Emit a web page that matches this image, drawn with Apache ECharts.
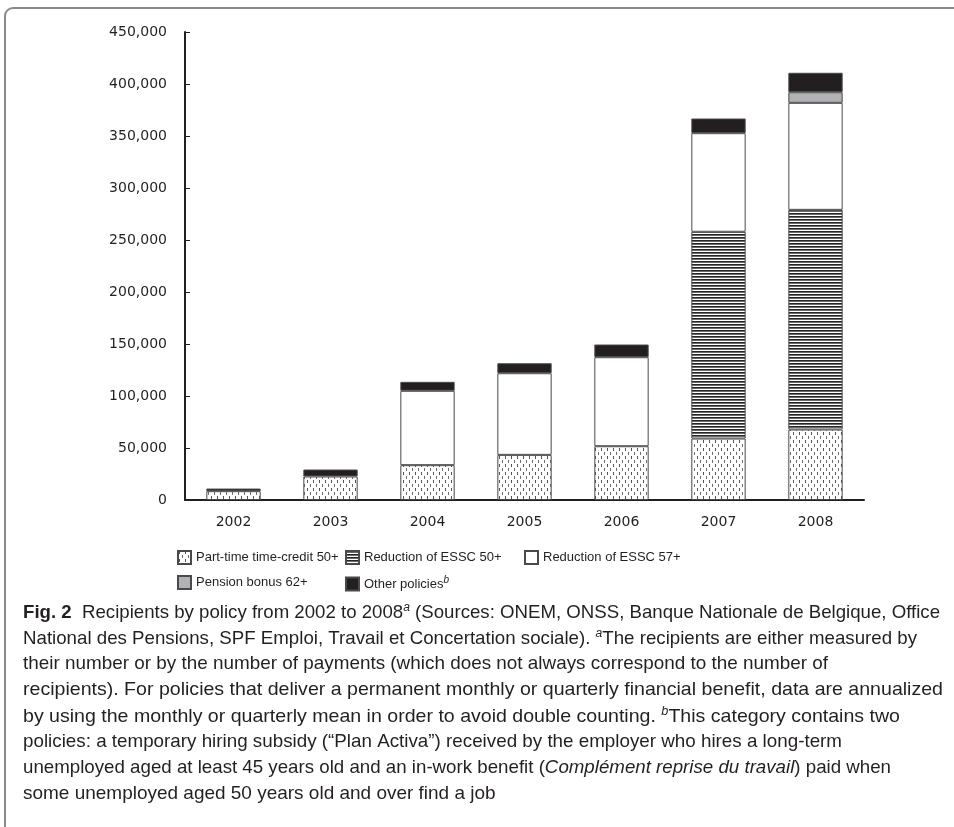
<!DOCTYPE html>
<html><head><meta charset="utf-8">
<script src="https://cdn.jsdelivr.net/npm/echarts@6/dist/echarts.min.js"></script>
<style>html,body{margin:0;padding:0;background:#fff}#c{width:954px;height:827px}</style>
</head><body><div id="c"></div>
<script>
const years = ['2002','2003','2004','2005','2006','2007','2008'];
const partTime = [8500, 22600, 33500, 43400, 51700, 59100, 67800];
const essc50 = [null, null, null, null, null, 198800, 211200];
const essc57 = [null, null, 71500, 78500, 85600, 94800, 102900];
const pension = [null, null, null, null, null, null, 10200];
const other = [2500, 6700, 8600, 9600, 12200, 14100, 18700];
const seriesNames = ['Part-time time-credit 50+', 'Reduction of ESSC 50+', 'Reduction of ESSC 57+', 'Pension bonus 62+', 'Other policies'];
const yTicks = [0, 50000, 100000, 150000, 200000, 250000, 300000, 350000, 400000, 450000];

function dotPattern(){
  const c = document.createElement('canvas'); c.width = 6; c.height = 8;
  const g = c.getContext('2d');
  g.fillStyle = '#fff'; g.fillRect(0,0,6,8);
  g.fillStyle = '#555'; g.fillRect(1,0,1,3);
  g.fillStyle = '#6e6e6e'; g.fillRect(4,4,1,3);
  return c;
}
function stripePattern(){
  const c = document.createElement('canvas'); c.width = 4; c.height = 3;
  const g = c.getContext('2d');
  g.fillStyle = '#fff'; g.fillRect(0,0,4,3);
  g.fillStyle = '#262626'; g.fillRect(0,0,4,1);
  g.fillStyle = '#6a6a6a'; g.fillRect(0,1,4,1);
  return c;
}
const dotFill = {image: dotPattern(), repeat: 'repeat'};
const stripeFill = {image: stripePattern(), repeat: 'repeat'};

const border = {borderColor: '#4a4a4a', borderWidth: 1};
const fills = [dotFill, stripeFill, '#ffffff', '#b1b2b5', '#231f20'];
const values = [partTime, essc50, essc57, pension, other];

const series = seriesNames.map((n, i) => ({
  name: n, type: 'bar', stack: 'all', barWidth: '56%',
  itemStyle: Object.assign({color: fills[i]}, border),
  data: values[i]
}));

const lf = 'Liberation Sans';
const legendFont = {fontFamily: lf, fontSize: 13, color: '#231f20',
  rich: {n: {fontFamily: lf, fontSize: 13, color: '#231f20'},
         s: {fontFamily: lf, fontSize: 10, fontStyle: 'italic', color: '#231f20', padding: [0,0,8,0]}}};
const legendPos = [[177, 550], [345, 550], [524, 550], [177, 575], [345, 575]];
const legends = seriesNames.map((n, i) => ({
  data: [n], left: legendPos[i][0], top: legendPos[i][1], itemWidth: 13, itemHeight: 13,
  icon: 'rect', itemGap: 0, padding: 0, textStyle: legendFont, selectedMode: false,
  formatter: i === 4 ? () => '{n|Other policies}{s|b}' : undefined
}));

const capFont = 'Liberation Sans';
const capSize = 18.5;
const rich = {
  b: {fontFamily: capFont, fontSize: capSize, fontWeight: 'bold', fill: '#231f20'},
  t: {fontFamily: capFont, fontSize: capSize, fill: '#231f20'},
  i: {fontFamily: capFont, fontSize: capSize, fontStyle: 'italic', fill: '#231f20'},
  s: {fontFamily: capFont, fontSize: 12, fontStyle: 'italic', fill: '#231f20', padding: [0,0,9,0]}
};
const captionLines = [
  '{b|Fig. 2}{t|  Recipients by policy from 2002 to 2008}{s|a}{t| (Sources: ONEM, ONSS, Banque Nationale de Belgique, Office}',
  '{t|National des Pensions, SPF Emploi, Travail et Concertation sociale). }{s|a}{t|The recipients are either measured by}',
  '{t|their number or by the number of payments (which does not always correspond to the number of}',
  '{t|recipients). For policies that deliver a permanent monthly or quarterly financial benefit, data are annualized}',
  '{t|by using the monthly or quarterly mean in order to avoid double counting. }{s|b}{t|This category contains two}',
  '{t|policies: a temporary hiring subsidy (\u201cPlan Activa\u201d) received by the employer who hires a long-term}',
  '{t|unemployed aged at least 45 years old and an in-work benefit (}{i|Compl\u00e9ment reprise du travail}{t|) paid when}',
  '{t|some unemployed aged 50 years old and over find a job}'
];
// approximate right edge of each full caption line in the figure (px); last line uses the mean condensing
const captionRight = [940, 917, 828, 943, 900, 842, 891, null];
const captionLeft = 23;
const captionTop0 = 602, captionStep = 26;

const mc = document.createElement('canvas').getContext('2d');
function lineWidth(str){
  let w = 0;
  str.replace(/\{(\w)\|([^}]*)\}/g, (m, k, t) => {
    const st = rich[k];
    mc.font = (st.fontStyle === 'italic' ? 'italic ' : '') + (st.fontWeight === 'bold' ? 'bold ' : '') + st.fontSize + 'px "' + capFont + '"';
    w += mc.measureText(t).width;
    return m;
  });
  return w;
}
const scales = captionLines.map((t, i) => captionRight[i] ? (captionRight[i] - captionLeft) / lineWidth(t) : null);
const known = scales.filter(s => s);
const meanScale = known.reduce((a, b) => a + b, 0) / known.length;

const graphics = [{
  type: 'rect', shape: {x: 5, y: 8, width: 1100, height: 1000, r: 8},
  style: {fill: 'none', stroke: '#8a8a8a', lineWidth: 2}, silent: true
}].concat(captionLines.map((t, i) => ({
  type: 'text', x: captionLeft, y: captionTop0 + captionStep * i,
  scaleX: scales[i] || meanScale, originX: 0,
  style: {text: t, rich: rich, font: capSize + 'px ' + capFont, fill: '#231f20', verticalAlign: 'top'}
})));

const chart = echarts.init(document.getElementById('c'), null, {renderer: 'canvas'});
chart.setOption({
  animation: false,
  backgroundColor: '#fff',
  grid: {left: 185, right: 90, top: 32, bottom: 327, containLabel: false},
  legend: legends,
  xAxis: {
    type: 'category', data: years,
    axisLine: {lineStyle: {color: '#231f20', width: 2}},
    axisTick: {show: false},
    axisLabel: {fontFamily: 'DejaVu Sans', fontSize: 14, color: '#231f20', margin: 15}
  },
  yAxis: {
    type: 'value', min: yTicks[0], max: yTicks[yTicks.length-1], interval: yTicks[1] - yTicks[0],
    splitLine: {show: false},
    axisLine: {show: true, lineStyle: {color: '#231f20', width: 2}},
    axisTick: {show: true, inside: true, length: 5, lineStyle: {color: '#231f20', width: 1}},
    axisLabel: {fontFamily: 'DejaVu Sans', fontSize: 14, color: '#231f20', margin: 18,
      formatter: v => v.toLocaleString('en-US')}
  },
  graphic: graphics,
  series: series
});
</script></body></html>
